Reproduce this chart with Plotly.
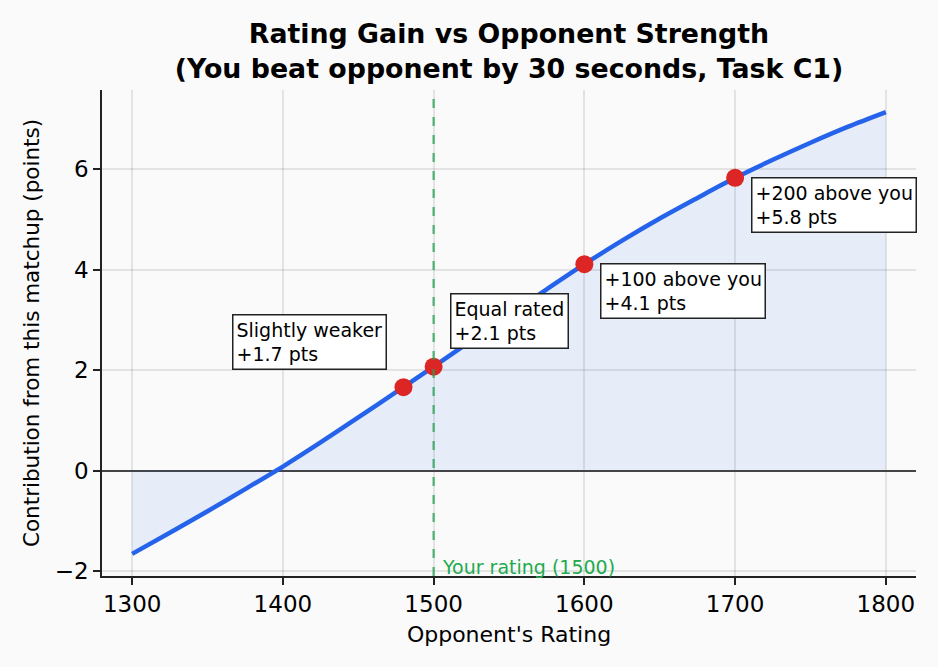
import plotly.graph_objects as go

# curve (opponent rating -> contribution in points)
ratings = [1300, 1325, 1350, 1375, 1400, 1425, 1450, 1475, 1500, 1525, 1550,
           1575, 1600, 1625, 1650, 1675, 1700, 1725, 1750, 1775, 1800]
contribution = [-1.66, -1.24, -0.81, -0.37, 0.08, 0.56, 1.06, 1.56, 2.07, 2.59, 3.10,
                3.61, 4.11, 4.58, 5.02, 5.43, 5.83, 6.19, 6.53, 6.85, 7.14]

# highlighted matchups
mark_ratings = [1480, 1500, 1600, 1700]
mark_values = [1.66, 2.07, 4.11, 5.83]
mark_labels = ["Slightly weaker<br>+1.7 pts", "Equal rated<br>+2.1 pts",
               "+100 above you<br>+4.1 pts", "+200 above you<br>+5.8 pts"]
label_shift = [(-171, 73), (16, 74), (16, 1), (16, 1)]

your_rating = 1500

FONT = "DejaVu Sans"

fig = go.Figure()

fig.add_trace(go.Scatter(
    x=ratings, y=contribution, mode="lines",
    line=dict(color="#2563eb", width=4.5, shape="spline", smoothing=0.8),
    fill="tozeroy", fillcolor="rgba(37,99,235,0.09)",
    hoverinfo="skip", showlegend=False))

fig.add_trace(go.Scatter(
    x=mark_ratings, y=mark_values, mode="markers",
    marker=dict(color="#dc2626", size=18),
    showlegend=False))

for x, y, txt, (dx, dy) in zip(mark_ratings, mark_values, mark_labels, label_shift):
    fig.add_annotation(x=x, y=y, text=txt, showarrow=False, align="left",
                       xanchor="left", yanchor="top", xshift=dx, yshift=dy,
                       font=dict(family=FONT, size=19, color="black"),
                       bgcolor="white", bordercolor="#222", borderwidth=1.5, borderpad=3)

fig.add_shape(type="line", x0=your_rating, x1=your_rating, y0=0, y1=1,
              xref="x", yref="paper",
              line=dict(color="rgba(34,160,80,0.75)", width=2.3, dash="dash"))

fig.add_annotation(x=your_rating, y=0, xref="x", yref="paper", text="Your rating (1500)",
                   showarrow=False, xanchor="left", yanchor="bottom", xshift=6, yshift=-4,
                   font=dict(family=FONT, size=19, color="#22aa4f"))

fig.update_layout(
    width=938, height=667,
    margin=dict(l=102, r=22, t=90, b=91),
    paper_bgcolor="#fafafa", plot_bgcolor="#fafafa",
    font=dict(family=FONT, color="black"),
    title=dict(text="Rating Gain vs Opponent Strength<br>(You beat opponent by 30 seconds, Task C1)",
               x=0.5, xref="paper", xanchor="center",
               y=0.935, yref="container", yanchor="top",
               font=dict(family=FONT, size=26.8, weight="bold")),
)

fig.update_xaxes(
    range=[1280, 1820], tickvals=[1300, 1400, 1500, 1600, 1700, 1800],
    showgrid=True, gridcolor="rgba(0,0,0,0.09)", gridwidth=1.5,
    showline=True, linecolor="#222", linewidth=1.6,
    ticks="outside", ticklen=7, tickwidth=1.6, tickcolor="#222",
    tickfont=dict(size=23), zeroline=False,
    title=dict(text="Opponent's Rating", font=dict(size=22), standoff=10))

fig.update_yaxes(
    range=[-2.1, 7.58], tickvals=[-2, 0, 2, 4, 6],
    showgrid=True, gridcolor="rgba(0,0,0,0.09)", gridwidth=1.5,
    showline=True, linecolor="#222", linewidth=1.6,
    ticks="outside", ticklen=7, tickwidth=1.6, tickcolor="#222",
    tickfont=dict(size=23),
    zeroline=True, zerolinecolor="#444", zerolinewidth=1.6,
    title=dict(text="Contribution from this matchup (points)", font=dict(size=21.5), standoff=9))

# drop the browser's default page margin so the figure fills the window
fig.write_html("out.html", config={"displayModeBar": False},
               post_script="document.body.style.margin='0';"
                           "document.body.style.background='#fafafa';")
